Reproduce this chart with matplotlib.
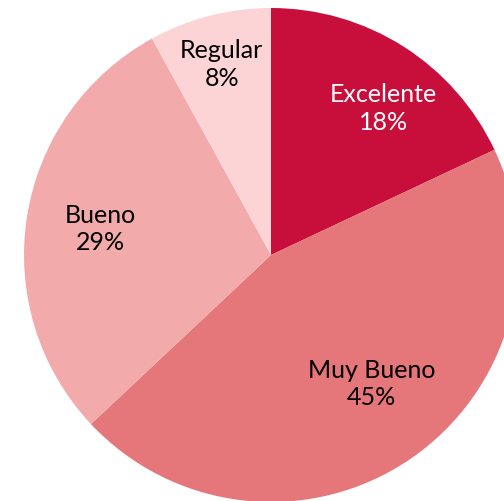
import numpy as np
import matplotlib.pyplot as plt

# datos
categorias = ['Excelente', 'Muy Bueno', 'Bueno', 'Regular']
porcentajes = [18, 45, 29, 8]
colores = ['#C80F3C', '#E57679', '#F2AAAA', '#FDD4D6']
color_texto = ['white', 'black', 'black', 'black']
dist_etiqueta = [0.75, 0.66, 0.70, 0.80]
giro_etiqueta = [-5, 4, 0, 0]

plt.rcParams['font.family'] = ['Lato', 'DejaVu Sans']

fig = plt.figure(figsize=(5.04, 5.02), dpi=100)
ax = fig.add_axes([0, 0, 1, 1])

wedges, _ = ax.pie(porcentajes, colors=colores, startangle=90, counterclock=False,
                   radius=1, wedgeprops=dict(linewidth=0))

for w, cat, p, c, d, g in zip(wedges, categorias, porcentajes, color_texto,
                              dist_etiqueta, giro_etiqueta):
    ang = np.deg2rad((w.theta1 + w.theta2) / 2 + g)
    ax.text(d*np.cos(ang), d*np.sin(ang), f'{cat}\n{p}%', color=c,
            ha='center', va='center', fontsize=18, linespacing=1.25)

ax.set_xlim(-271/247, 233/247)
ax.set_ylim(-246/247, 256/247)
ax.set_aspect('equal')
ax.axis('off')

plt.savefig('out.png', dpi=100)
